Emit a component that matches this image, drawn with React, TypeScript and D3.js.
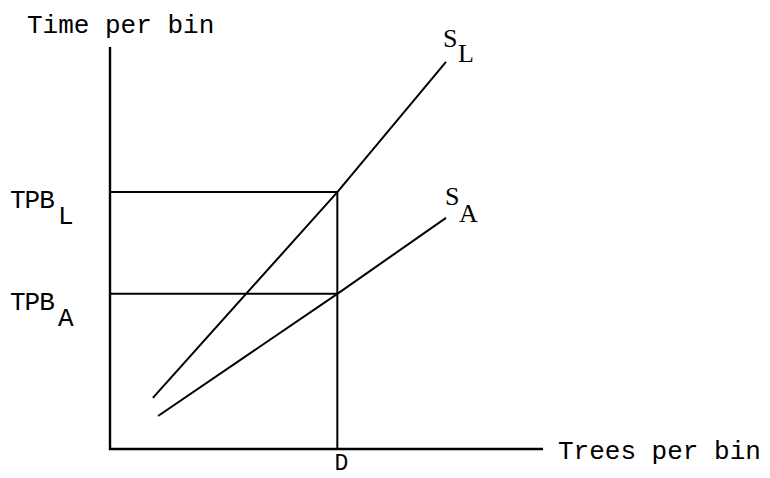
import React from "react";
import * as d3 from "d3";

// Conceptual diagram values (arbitrary units)
const xDomain = [0, 10];
const yDomain = [0, 10];
const demandD = 5.25; // D on trees-per-bin axis
const tpbLevels = [
  { name: "L", y: 6.39 },
  { name: "A", y: 3.86 },
];
const supplyL = [
  { x: 0.99, y: 1.27 },
  { x: 5.25, y: 6.39 },
  { x: 7.76, y: 9.63 },
];
const supplyA = [
  { x: 1.11, y: 0.82 },
  { x: 5.25, y: 3.86 },
  { x: 7.76, y: 5.75 },
];
const xAxisLabel = "Trees per bin";
const yAxisLabel = "Time per bin";

const W = 770;
const H = 478;

export default function App() {
  const x = d3.scaleLinear().domain(xDomain).range([110, 543]);
  const y = d3.scaleLinear().domain(yDomain).range([449, 47]);
  const line = d3
    .line<{ x: number; y: number }>()
    .x((d) => x(d.x))
    .y((d) => y(d.y));

  const mono = "'Liberation Mono', 'DejaVu Sans Mono', monospace";
  const serif = "'Liberation Serif', 'DejaVu Serif', serif";

  return (
    <svg
      width={W}
      height={H}
      viewBox={`0 0 ${W} ${H}`}
      style={{ position: "absolute", left: 0, top: 0, background: "#fff" }}
    >
      <rect x={0} y={0} width={W} height={H} fill="#fff" />
      {/* axes */}
      <path
        d={`M${x(0)},${y(10)}V${y(0)}H${x(10)}`}
        fill="none"
        stroke="#000"
        strokeWidth={2.4}
      />
      {/* horizontal TPB guides */}
      {tpbLevels.map((t) => (
        <line
          key={t.name}
          x1={x(0)}
          x2={x(demandD)}
          y1={y(t.y)}
          y2={y(t.y)}
          stroke="#000"
          strokeWidth={2}
        />
      ))}
      {/* vertical D guide */}
      <line
        x1={x(demandD)}
        x2={x(demandD)}
        y1={y(tpbLevels[0].y)}
        y2={y(0)}
        stroke="#000"
        strokeWidth={2}
      />
      {/* supply lines */}
      <path d={line(supplyL) || ""} fill="none" stroke="#000" strokeWidth={2} />
      <path d={line(supplyA) || ""} fill="none" stroke="#000" strokeWidth={2} />

      {/* axis labels */}
      <text x={27} y={33} fontFamily={mono} fontSize={26} fill="#000">
        {yAxisLabel}
      </text>
      <text x={558} y={459} fontFamily={mono} fontSize={26} fill="#000">
        {xAxisLabel}
      </text>
      <text
        x={x(demandD) + 4}
        y={470}
        fontFamily={mono}
        fontSize={23}
        textAnchor="middle"
        fill="#000"
      >
        D
      </text>

      {/* TPB labels */}
      {tpbLevels.map((t) => (
        <g key={"lab" + t.name}>
          <text
            x={10}
            y={y(t.y) + 16}
            fontFamily={mono}
            fontSize={26}
            fill="#000"
            letterSpacing={-1}
          >
            TPB
          </text>
          <text x={58} y={y(t.y) + 32} fontFamily={mono} fontSize={26} fill="#000">
            {t.name}
          </text>
        </g>
      ))}

      {/* supply curve labels */}
      <text x={443} y={47} fontFamily={serif} fontSize={26} fill="#000">
        S
      </text>
      <text x={458} y={62} fontFamily={serif} fontSize={26} fill="#000">
        L
      </text>
      <text x={445} y={205} fontFamily={serif} fontSize={26} fill="#000">
        S
      </text>
      <text x={459} y={222} fontFamily={serif} fontSize={26} fill="#000">
        A
      </text>
    </svg>
  );
}
